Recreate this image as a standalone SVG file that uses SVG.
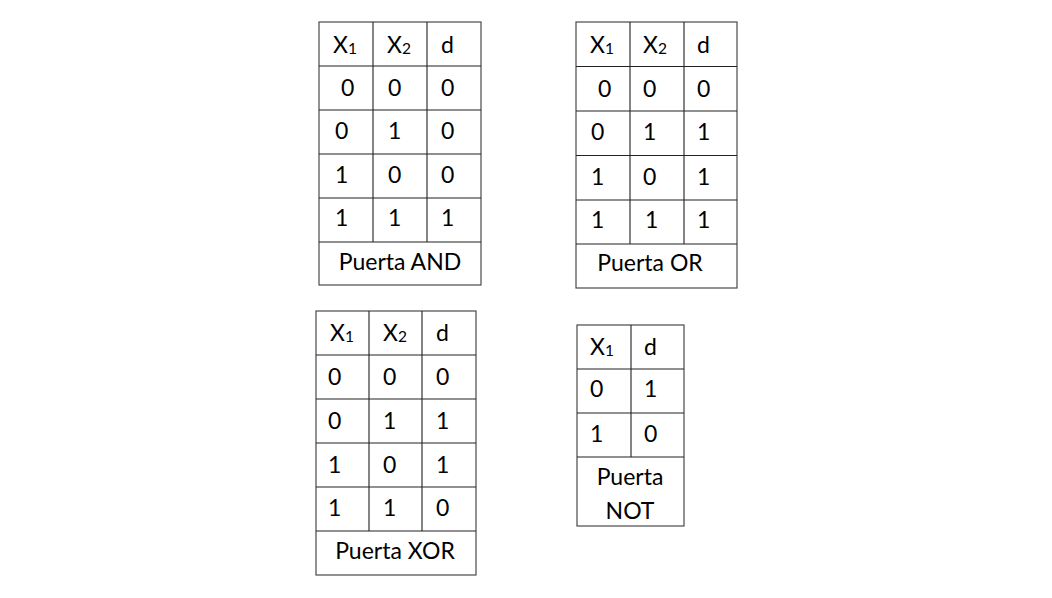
<svg xmlns="http://www.w3.org/2000/svg" width="1052" height="598" viewBox="0 0 1052 598">
<style>
.b{fill:#fff;stroke:#4a4a4a;stroke-width:1.2}
.l{stroke:#222;stroke-width:1.1}
text{font-family:Lato,"Open Sans","Liberation Sans",sans-serif;font-size:23px;fill:#000}
.c{text-anchor:middle}
.s{font-size:15.5px}
</style>
<rect width="1052" height="598" fill="#fff"/>
<g id="and">
<rect class="b" x="319" y="22" width="162" height="263"/>
<path class="l" d="M319 66H481M319 110H481M319 154H481M319 198H481M319 242H481M373 22V242M427 22V242"/>
<text x="333" y="53">X<tspan class="s" dy="1">1</tspan></text>
<text x="387" y="53">X<tspan class="s" dy="1">2</tspan></text>
<text x="441" y="53">d</text>
<text x="341" y="96">0</text><text x="388" y="96">0</text><text x="441" y="96">0</text>
<text x="335" y="139">0</text><text x="388" y="139">1</text><text x="441" y="139">0</text>
<text x="335" y="183">1</text><text x="388" y="183">0</text><text x="441" y="183">0</text>
<text x="335" y="226">1</text><text x="388" y="226">1</text><text x="441" y="226">1</text>
<text class="c" x="400" y="270">Puerta AND</text>
</g>
<g id="or">
<rect class="b" x="576" y="22" width="161" height="266"/>
<path class="l" d="M576 66.5H737M576 111H737M576 155.5H737M576 200H737M576 244H737M630 22V244M684 22V244"/>
<text x="590" y="53">X<tspan class="s" dy="1">1</tspan></text>
<text x="643" y="53">X<tspan class="s" dy="1">2</tspan></text>
<text x="697" y="53">d</text>
<text x="598" y="97">0</text><text x="643" y="97">0</text><text x="697" y="97">0</text>
<text x="591" y="140">0</text><text x="643" y="140">1</text><text x="697" y="140">1</text>
<text x="591" y="185">1</text><text x="643" y="185">0</text><text x="697" y="185">1</text>
<text x="591" y="228">1</text><text x="645" y="228">1</text><text x="697" y="228">1</text>
<text class="c" x="650" y="271">Puerta OR</text>
</g>
<g id="xor">
<rect class="b" x="316" y="311" width="160" height="264"/>
<path class="l" d="M316 355H476M316 399H476M316 443H476M316 487H476M316 531H476M369 311V531M422 311V531"/>
<text x="330" y="341">X<tspan class="s" dy="1">1</tspan></text>
<text x="383" y="341">X<tspan class="s" dy="1">2</tspan></text>
<text x="436" y="341">d</text>
<text x="328" y="385">0</text><text x="383" y="385">0</text><text x="436" y="385">0</text>
<text x="328" y="429">0</text><text x="383" y="429">1</text><text x="436" y="429">1</text>
<text x="328" y="473">1</text><text x="383" y="473">0</text><text x="436" y="473">1</text>
<text x="328" y="516">1</text><text x="383" y="516">1</text><text x="436" y="516">0</text>
<text class="c" x="395" y="559">Puerta XOR</text>
</g>
<g id="not">
<rect class="b" x="577" y="325" width="107" height="201"/>
<path class="l" d="M577 369H684M577 413H684M577 457H684M631 325V457"/>
<text x="590" y="355">X<tspan class="s" dy="1">1</tspan></text>
<text x="644" y="355">d</text>
<text x="590" y="397">0</text><text x="644" y="397">1</text>
<text x="590" y="442">1</text><text x="644" y="442">0</text>
<text class="c" x="630" y="485">Puerta</text>
<text class="c" x="630" y="519">NOT</text>
</g>
</svg>
